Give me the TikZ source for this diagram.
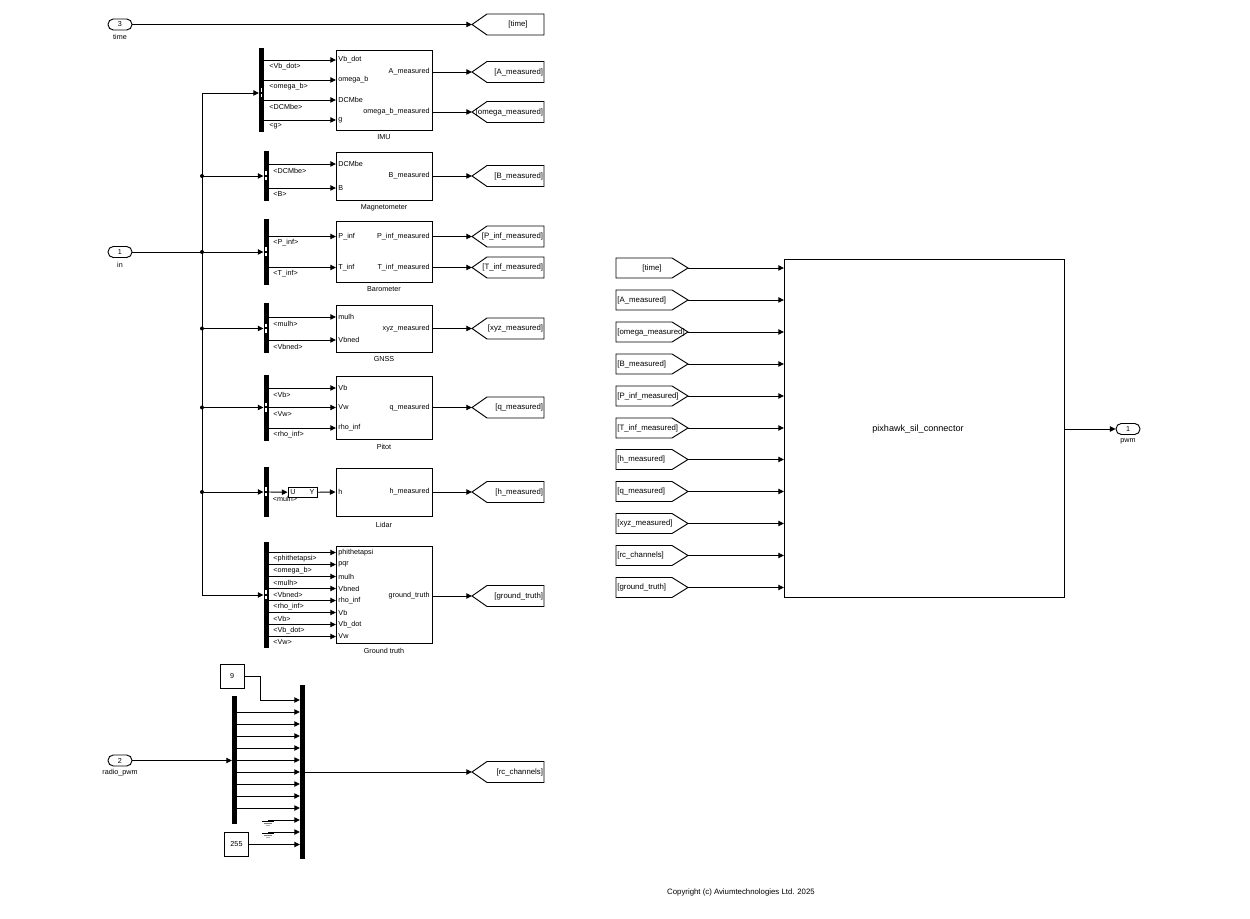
\documentclass[tikz,border=0pt]{standalone}
\usepackage{fontspec}
\setmainfont{Liberation Sans}
\usetikzlibrary{arrows.meta,calc,fit}
\newcommand\gotoL[3]{%
  \draw[fill=white] (472,#2) -- (487,#2-10.5) -- (544,#2-10.5) -- (544,#2+10.5) -- (487,#2+10.5) -- cycle;
  \coordinate (#1) at (472,#2);
  \node[tagtxt, anchor=east] at (543.5,#2) {#3};}
\newcommand\fromR[3]{%
  \draw[fill=white] (616,#2-10) -- (672,#2-10) -- (688,#2) -- (672,#2+10) -- (616,#2+10) -- cycle;
  \coordinate (#1) at (688,#2);
  \node[tagtxt, anchor=west] at (617,#2) {#3};}
\newcommand\busbar[5]{% name, x, ytop, ybot, yin
  \node[bbar, fit={(#2,#3) (#2+5,#4)}] (#1) {};
  \fill[white] (#2+1.6,#5-4.5) rectangle (#2+3.4,#5-1);
  \fill[white] (#2+1.6,#5+1) rectangle (#2+3.4,#5+4.5);
  \coordinate (#1-in) at (#2,#5);}
\newcommand\gnd[2]{% name, y
  \coordinate (#1) at (268,#2);
  \draw (262,#2+1.5) -- (274,#2+1.5);
  \draw[gray] (264,#2+3.5) -- (272,#2+3.5);
  \draw[gray!60] (266,#2+5.5) -- (270,#2+5.5);}
\begin{document}
\begin{tikzpicture}[x=0.75pt,y=-0.75pt,line width=0.7pt,
  font=\fontsize{5.4pt}{6.5pt}\selectfont,
  sig/.style={-{Triangle[length=4.2pt,width=4pt]}},
  blk/.style={draw,fill=white,inner sep=0pt},
  bbar/.style={fill=black,draw=none,inner sep=0pt},
  txt/.style={inner sep=0pt},
  tagtxt/.style={inner sep=0pt,font=\fontsize{5.85pt}{7pt}\selectfont},
  jdot/.style={circle,fill=black,inner sep=0pt,minimum size=3pt},
  pill/.style={draw,rounded corners=4pt,minimum width=18pt,minimum height=8.25pt,inner sep=0pt}]
\useasboundingbox (0,0) rectangle (1250,919);

% ---------------- inports ----------------
\node[pill] (in3) at (120,24.5) {3};
\node[txt] (lt) at (120,37) {time};
\node[pill] (in1) at (120,252) {1};
\node[txt] (lin) at (120,264.5) {in};
\node[pill] (in2) at (120,760.5) {2};
\node[txt] (lrp) at (120,773) {radio\_pwm};

% ---------------- goto tags (left) ----------------
\draw[fill=white] (472,24.5) -- (487,14) -- (544,14) -- (544,35) -- (487,35) -- cycle;
\coordinate (gtime) at (472,24.5);
\node[tagtxt] at (518,24.5) {[time]};
\gotoL{gA}{72}{[A\_measured]}
\gotoL{gom}{112}{[omega\_measured]}
\gotoL{gB}{176}{[B\_measured]}
\gotoL{gP}{236.5}{[P\_inf\_measured]}
\gotoL{gT}{267.5}{[T\_inf\_measured]}
\gotoL{gxyz}{328.5}{[xyz\_measured]}
\gotoL{gq}{407.5}{[q\_measured]}
\gotoL{gh}{492}{[h\_measured]}
\gotoL{ggt}{596}{[ground\_truth]}
\gotoL{grc}{772}{[rc\_channels]}

\draw[sig] (in3.east) -- (gtime);

% ---------------- trunk ----------------
\coordinate (tktop) at (202,93);
\coordinate (tkbot) at (202,595);
\coordinate (j1) at (202,176);
\coordinate (j2) at (202,252);
\coordinate (j3) at (202,328.5);
\coordinate (j4) at (202,407.5);
\coordinate (j5) at (202,492);
\draw (tktop) -- (tkbot);
\draw (in1.east) -- (j2);
\foreach \j in {j1,j2,j3,j4,j5} \node[jdot] at (\j) {};

% ---------------- IMU ----------------
\busbar{bimu}{259}{48}{132}{93}
\draw[sig] (tktop) -- (bimu-in);
\node[blk, fit={(336,50) (432,130)}] (imu) {};
\node[txt] at (384,137) {IMU};
\foreach \y/\a/\b in {60/{<Vb\_dot>}/{Vb\_dot}, 80/{<omega\_b>}/{omega\_b}, 100/{<DCMbe>}/{DCMbe}, 120/{<g>}/{g}} {
  \coordinate (p) at (336,\y);
  \draw[sig] (264,\y) -- (p);
  \node[txt, anchor=west] at (269,\y+6.5) {\a};
  \node[txt, anchor=west] at (338,\y) {\b};
}
\node[txt, anchor=east] at (430,72) {A\_measured};
\node[txt, anchor=east] at (430,112) {omega\_b\_measured};
\coordinate (imuo1) at (432,72);
\coordinate (imuo2) at (432,112);
\draw[sig] (imuo1) -- (gA);
\draw[sig] (imuo2) -- (gom);

% ---------------- Magnetometer ----------------
\busbar{bmag}{263.5}{151.5}{201.5}{176}
\draw[sig] (j1) -- (bmag-in);
\node[blk, fit={(336,152) (432,200)}] (mag) {};
\node[txt] at (384,207.5) {Magnetometer};
\foreach \y/\a/\b in {164/{<DCMbe>}/{DCMbe}, 188/{<B>}/{B}} {
  \coordinate (p) at (336,\y);
  \draw[sig] (268.5,\y) -- (p);
  \node[txt, anchor=west] at (273,\y+6.5) {\a};
  \node[txt, anchor=west] at (338,\y) {\b};
}
\node[txt, anchor=east] at (430,176) {B\_measured};
\coordinate (mago) at (432,176);
\draw[sig] (mago) -- (gB);

% ---------------- Barometer ----------------
\busbar{bbaro}{263.5}{219}{285.5}{252}
\draw[sig] (j2) -- (bbaro-in);
\node[blk, fit={(336,221) (432,282.5)}] (baro) {};
\node[txt] at (384,289.5) {Barometer};
\foreach \y/\a/\b in {236.5/{<P\_inf>}/{P\_inf}, 267.5/{<T\_inf>}/{T\_inf}} {
  \coordinate (p) at (336,\y);
  \draw[sig] (268.5,\y) -- (p);
  \node[txt, anchor=west] at (273,\y+6.5) {\a};
  \node[txt, anchor=west] at (338,\y) {\b};
}
\node[txt, anchor=east] at (430,236.5) {P\_inf\_measured};
\node[txt, anchor=east] at (430,267.5) {T\_inf\_measured};
\coordinate (baroo1) at (432,236.5);
\coordinate (baroo2) at (432,267.5);
\draw[sig] (baroo1) -- (gP);
\draw[sig] (baroo2) -- (gT);

% ---------------- GNSS ----------------
\busbar{bgnss}{263.5}{303}{353.5}{328.5}
\draw[sig] (j3) -- (bgnss-in);
\node[blk, fit={(336,305.5) (432,352)}] (gnss) {};
\node[txt] at (384,359.5) {GNSS};
\foreach \y/\a/\b in {317/{<mulh>}/{mulh}, 340/{<Vbned>}/{Vbned}} {
  \coordinate (p) at (336,\y);
  \draw[sig] (268.5,\y) -- (p);
  \node[txt, anchor=west] at (273,\y+6.5) {\a};
  \node[txt, anchor=west] at (338,\y) {\b};
}
\node[txt, anchor=east] at (430,328.5) {xyz\_measured};
\coordinate (gnsso) at (432,328.5);
\draw[sig] (gnsso) -- (gxyz);

% ---------------- Pitot ----------------
\busbar{bpit}{263.5}{375}{441.5}{407.5}
\draw[sig] (j4) -- (bpit-in);
\node[blk, fit={(336,376.5) (432,439)}] (pitot) {};
\node[txt] at (384,446.5) {Pitot};
\foreach \y/\a/\b in {388/{<Vb>}/{Vb}, 407.5/{<Vw>}/{Vw}, 428/{<rho\_inf>}/{rho\_inf}} {
  \coordinate (p) at (336,\y);
  \draw[sig] (268.5,\y) -- (p);
  \node[txt, anchor=west] at (273,\y+6.5) {\a};
  \node[txt, anchor=west] at (338,\y) {\b};
}
\node[txt, anchor=east] at (430,407.5) {q\_measured};
\coordinate (pito) at (432,407.5);
\draw[sig] (pito) -- (gq);

% ---------------- Lidar ----------------
\busbar{blid}{263.5}{467}{517.5}{492}
\draw[sig] (j5) -- (blid-in);
\node[txt, anchor=west] at (272.5,498.5) {<mulh>};
\node[blk, fit={(288,487) (317,497.5)}] (uy) {};
\node[txt, anchor=west] at (290,492) {U};
\node[txt, anchor=east] at (315,492) {Y};
\coordinate (lidbo) at (268.5,492);
\draw[sig] (lidbo) -- (uy.west);
\node[blk, fit={(336,468) (432,516)}] (lidar) {};
\node[txt] at (384,524.5) {Lidar};
\draw[sig] (uy.east) -- (lidar.west);
\node[txt, anchor=west] at (338,492) {h};
\node[txt, anchor=east] at (430,492) {h\_measured};
\draw[sig] (lidar.east) -- (gh);

% ---------------- Ground truth ----------------
\busbar{bgt}{263.5}{542}{648}{595}
\draw[sig] (tkbot) -- (bgt-in);
\node[blk, fit={(336,546) (432,643)}] (gtb) {};
\node[txt] at (384,650.5) {Ground truth};
\foreach \y/\a/\b in {552.5/{<phithetapsi>}/{phithetapsi}, 564.5/{<omega\_b>}/{pqr}, 576.5/{<mulh>}/{mulh}, 588.5/{<Vbned>}/{Vbned}, 600.5/{<rho\_inf>}/{rho\_inf}, 612.5/{<Vb>}/{Vb}, 624.5/{<Vb\_dot>}/{Vb\_dot}, 636.5/{<Vw>}/{Vw}} {
  \coordinate (p) at (336,\y);
  \draw[sig] (268.5,\y) -- (p);
  \node[txt, anchor=west] at (273,\y+6) {\a};
  \node[txt, anchor=west] at (338,\y) {\b};
}
\node[txt, anchor=east] at (430,596) {ground\_truth};
\coordinate (gto) at (432,596);
\draw[sig] (gto) -- (ggt);

% ---------------- radio / mux ----------------
\node[blk, minimum width=18pt, minimum height=17.5pt] (c9) at (232,676.5) {9};
\node[blk, minimum width=18pt, minimum height=18pt] (c255) at (236.5,844.5) {255};
\node[bbar, fit={(232,696) (237,824)}] (demux) {};
\node[bbar, fit={(300,684.5) (305,859)}] (mux) {};
\coordinate (demuxin) at (232,760.5);
\draw[sig] (in2.east) -- (demuxin);
\coordinate (m0) at (300,700);
\draw[sig] (c9.east) -- (260.5,676.5) -- (260.5,700) -- (m0);
\foreach \k in {1,...,9} {
  \coordinate (d\k) at (237,700+12*\k);
  \coordinate (m\k) at (300,700+12*\k);
  \draw[sig] (d\k) -- (m\k);
}
\gnd{g1}{820}
\gnd{g2}{832}
\coordinate (m10) at (300,820);
\coordinate (m11) at (300,832);
\coordinate (m12) at (300,844.5);
\draw[sig] (g1) -- (m10);
\draw[sig] (g2) -- (m11);
\draw[sig] (c255.east) -- (m12);
\coordinate (muxo) at (305,772);
\draw[sig] (muxo) -- (grc);

% ---------------- right side ----------------
\node[blk, fit={(784,259.5) (1064,597)}] (pix) {};
\node[txt, font=\fontsize{6.8pt}{8pt}\selectfont] at (918,429) {pixhawk\_sil\_connector};
\draw[fill=white] (616,258) -- (672,258) -- (688,268) -- (672,278) -- (616,278) -- cycle;
\coordinate (ftime) at (688,268);
\node[tagtxt] at (652,268) {[time]};
\fromR{fA}{300}{[A\_measured]}
\fromR{fom}{332}{[omega\_measured]}
\fromR{fB}{364}{[B\_measured]}
\fromR{fP}{396}{[P\_inf\_measured]}
\fromR{fT}{428}{[T\_inf\_measured]}
\fromR{fh}{459.5}{[h\_measured]}
\fromR{fq}{491.5}{[q\_measured]}
\fromR{fxyz}{523.5}{[xyz\_measured]}
\fromR{frc}{555.5}{[rc\_channels]}
\fromR{fgt}{587.5}{[ground\_truth]}
\foreach \f/\y in {ftime/268, fA/300, fom/332, fB/364, fP/396, fT/428, fh/459.5, fq/491.5, fxyz/523.5, frc/555.5, fgt/587.5} {
  \coordinate (q) at (784,\y);
  \draw[sig] (\f) -- (q);
}
\node[pill] (out1) at (1128,429) {1};
\node[txt] at (1128,441.5) {pwm};
\coordinate (pixo) at (1064,429);
\draw[sig] (pixo) -- (out1.west);

\node[txt, font=\fontsize{5.85pt}{7pt}\selectfont] (copy) at (741,892) {Copyright (c) Aviumtechnologies Ltd. 2025};
\end{tikzpicture}
\end{document}
